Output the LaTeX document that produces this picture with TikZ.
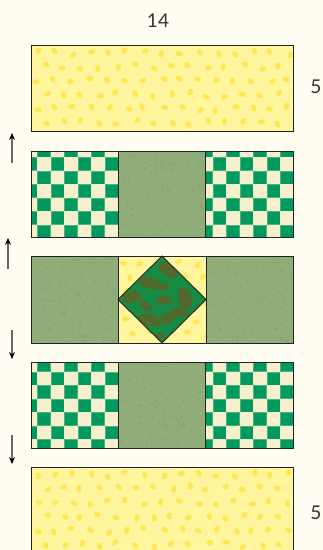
\documentclass[tikz,border=0pt]{standalone}
\usepackage{fontspec}
\setmainfont{Lato}
\usetikzlibrary{arrows.meta}
\definecolor{bgc}{HTML}{FFFDF2}
\definecolor{ybase}{HTML}{FFF59C}
\definecolor{yblob}{HTML}{FFE752}
\definecolor{chkg}{HTML}{009A5E}
\definecolor{chkc}{HTML}{F6F0CE}
\definecolor{sage}{HTML}{90AD79}
\definecolor{sagedot}{HTML}{7A9763}
\definecolor{dgreen}{HTML}{168B45}
\definecolor{olive}{HTML}{4F6A2C}
\definecolor{edge}{HTML}{222222}
\definecolor{txt}{HTML}{333333}
\tikzset{
  border/.style={draw=edge, line width=0.9pt},
  lbl/.style={text=txt, font=\fontsize{19}{21}\selectfont, inner sep=0pt},
  pressarrow/.style={draw=black!60, line width=1.2pt, -{Stealth[length=7pt,width=6pt,black]}},
}
\newcommand\yfab[4]{% x1 y1 x2 y2
  \fill[ybase] (#1,#2) rectangle (#3,#4);
  \begin{scope}
    \clip (#1,#2) rectangle (#3,#4);
    \foreach \j in {0,...,6}{
      \foreach \i in {0,...,15}{
        \pgfmathsetmacro\bx{#1+3+18*\i+9*mod(\j,2)+5*rnd}
        \pgfmathsetmacro\by{#2+5+14*\j+5*rnd}
        \pgfmathsetmacro\ba{360*rnd}
        \fill[yblob, rotate around={\ba:(\bx,\by)}] (\bx,\by) ellipse (3.6 and 2.6);
      }
    }
  \end{scope}
}
\newcommand\sagefab[4]{%
  \fill[sage] (#1,#2) rectangle (#3,#4);
  \foreach \k in {1,...,180}{
    \pgfmathsetmacro\dx{#1+1+(#3-#1-2)*rnd}
    \pgfmathsetmacro\dy{#2+1+(#4-#2-2)*rnd}
    \fill[sagedot] (\dx,\dy) circle (0.55);
  }
}
\newcommand\checkrow[3]{% y1 y2 firstcentre
  \fill[chkc] (31,#1) rectangle (293,#2);
  \begin{scope}
    \clip (31,#1) rectangle (293,#2);
    \foreach \j in {0,...,6}{
      \foreach \i in {-1,...,19}{
        \pgfmathtruncatemacro\cpar{mod(\i+\j+2,2)}
        \ifnum\cpar=0
          \pgfmathsetmacro\cx{44+13.5*\i}
          \pgfmathsetmacro\cy{#3+13.5*\j}
          \fill[chkg!70!chkc] (\cx-6.6,\cy-6.6) rectangle (\cx+6.6,\cy+6.6);
          \fill[chkg] (\cx-6,\cy-6) rectangle (\cx+6,\cy+6);
        \fi
      }
    }
  \end{scope}
}
\begin{document}
\begin{tikzpicture}[x=1pt,y=-1pt]
\useasboundingbox (0,0) rectangle (323,550);
\fill[bgc] (0,0) rectangle (323,550);
\clip (0,0) rectangle (323,550);
\pgfmathsetseed{7}
% top strip
\yfab{31}{45}{293}{131}
\draw[border] (31,45) rectangle (293,131);
% row 2
\checkrow{151}{237}{150.5}
\sagefab{118}{151}{205}{237}
\draw[border] (31,151) rectangle (293,237);
\draw[border] (118,151) -- (118,237) (205,151) -- (205,237);
% row 3
\sagefab{31}{256}{118}{343}
\sagefab{206}{256}{293}{343}
\yfab{118}{256}{206}{343}
\fill[dgreen] (162,256) -- (206,299.5) -- (162,343) -- (118,299.5) -- cycle;
\begin{scope}
  \clip (162,256) -- (206,299.5) -- (162,343) -- (118,299.5) -- cycle;
  \fill[olive, rotate around={-35:(168,270)}] (168,270) ellipse (11 and 6);
  \fill[olive, rotate around={-15:(150,283)}] (150,283) ellipse (12 and 6);
  \fill[olive, rotate around={10:(132,297)}] (132,297) ellipse (10 and 6);
  \fill[olive, rotate around={-75:(185,298)}] (185,298) ellipse (11 and 7);
  \fill[olive, rotate around={5:(164,300)}] (164,300) ellipse (8 and 4.5);
  \fill[olive, rotate around={-40:(146,306)}] (146,306) ellipse (7 and 4);
  \fill[olive, rotate around={-15:(150,320)}] (150,320) ellipse (12 and 6);
  \fill[olive, rotate around={25:(168,318)}] (168,318) ellipse (9 and 5);
  \fill[olive, rotate around={-10:(180,312)}] (180,312) ellipse (9 and 5);
  \fill[olive, rotate around={30:(164,287)}] (164,287) ellipse (6 and 3.5);
  \fill[olive, rotate around={0:(160,336)}] (160,336) ellipse (6 and 3);
\end{scope}
\draw[border] (162,256) -- (206,299.5) -- (162,343) -- (118,299.5) -- cycle;
\draw[border] (31,256) rectangle (293,343);
\draw[border] (118,256) -- (118,343) (206,256) -- (206,343);
% row 4
\checkrow{362}{448}{365}
\sagefab{118}{362}{205}{448}
\draw[border] (31,362) rectangle (293,448);
\draw[border] (118,362) -- (118,448) (205,362) -- (205,448);
% bottom strip
\yfab{31}{467}{293}{553}
\draw[border] (31,467) rectangle (293,553);
% labels
\node[lbl] (w) at (158,21) {14};
\node[lbl] (h1) at (316,87) {5};
\node[lbl] (h2) at (316,513) {5};
% arrows
\coordinate (a1s) at (12,163); \coordinate (a1e) at (12,133);
\coordinate (a2s) at (8,269);  \coordinate (a2e) at (8,238);
\coordinate (a3s) at (12,330); \coordinate (a3e) at (12,359);
\coordinate (a4s) at (12,435); \coordinate (a4e) at (12,464);
\draw[pressarrow] (a1s) -- (a1e);
\draw[pressarrow] (a2s) -- (a2e);
\draw[pressarrow] (a3s) -- (a3e);
\draw[pressarrow] (a4s) -- (a4e);
\end{tikzpicture}
\end{document}
